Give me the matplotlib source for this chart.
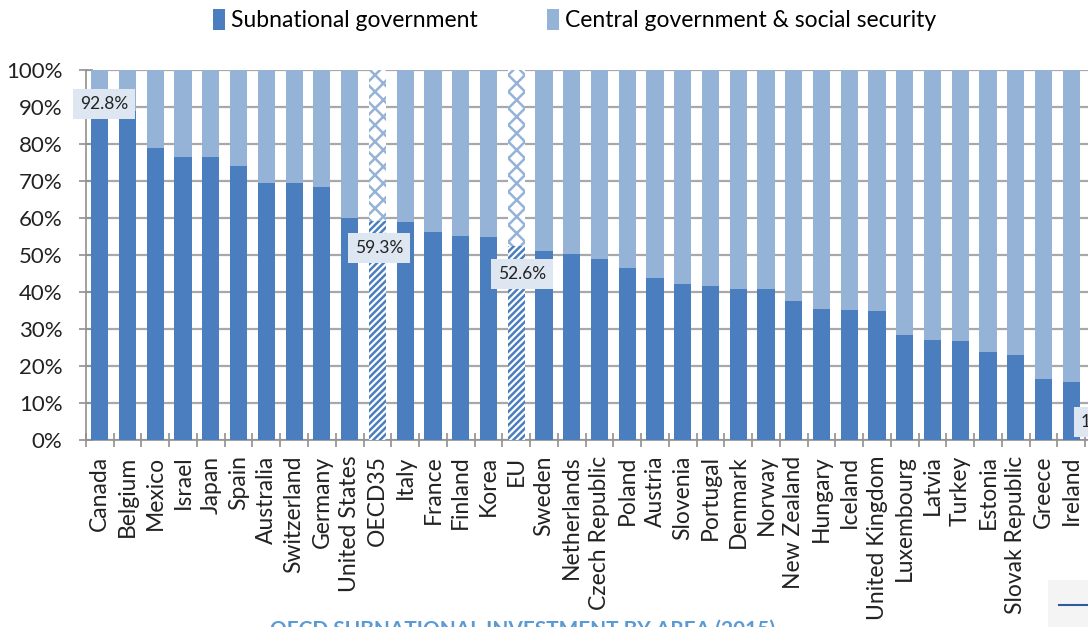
import matplotlib
matplotlib.use("Agg")
import matplotlib.pyplot as plt
from matplotlib.patches import Patch, Rectangle
from matplotlib.lines import Line2D

categories = ["Canada", "Belgium", "Mexico", "Israel", "Japan", "Spain", "Australia",
              "Switzerland", "Germany", "United States", "OECD35", "Italy", "France",
              "Finland", "Korea", "EU", "Sweden", "Netherlands", "Czech Republic",
              "Poland", "Austria", "Slovenia", "Portugal", "Denmark", "Norway",
              "New Zealand", "Hungary", "Iceland", "United Kingdom", "Luxembourg",
              "Latvia", "Turkey", "Estonia", "Slovak Republic", "Greece", "Ireland"]
subnational = [92.8, 89.0, 79.0, 76.6, 76.6, 74.1, 69.4, 69.4, 68.5, 60.0, 59.3, 59.0,
               56.3, 55.2, 54.8, 52.6, 51.0, 50.2, 48.9, 46.5, 43.8, 42.2, 41.6, 40.8,
               40.8, 37.6, 35.4, 35.1, 34.9, 28.4, 27.0, 26.8, 23.9, 23.0, 16.5, 15.7]
central = [100 - v for v in subnational]
averages = ["OECD35", "EU"]
labelled = {"Canada": "92.8%", "OECD35": "59.3%", "EU": "52.6%", "Ireland": "15.7%"}
series_names = ["Subnational government", "Central government & social security"]
title = "OECD SUBNATIONAL INVESTMENT BY AREA (2015)"

DARK = "#4a7ebf"
LIGHT = "#95b3d7"
FONT = ["Lato", "DejaVu Sans"]
plt.rcParams["font.family"] = FONT
plt.rcParams["hatch.linewidth"] = 1.8

fig = plt.figure(figsize=(10.88, 6.27), dpi=100)
ax = fig.add_axes([0.079, 0.298, 0.921, 0.59])

x = list(range(len(categories)))
w = 0.62
for i, c in enumerate(categories):
    if c in averages:
        ax.bar(i, subnational[i], width=w, facecolor="white", edgecolor=DARK,
               hatch="/////", linewidth=0, zorder=3)
        ax.bar(i, central[i], width=w, bottom=subnational[i], facecolor="white",
               edgecolor=LIGHT, hatch="xx", linewidth=0, zorder=3)
    else:
        ax.bar(i, subnational[i], width=w, color=DARK, zorder=3)
        ax.bar(i, central[i], width=w, bottom=subnational[i], color=LIGHT, zorder=3)

# data labels
offsets = {"Canada": (0.15, -2.0), "OECD35": (0.05, -7.3),
           "EU": (0.2, -7.6), "Ireland": (1.2, -10.7)}
for c, txt in labelled.items():
    i = categories.index(c)
    dx, dy = offsets[c]
    ax.text(i + dx, subnational[i] + dy, txt, ha="center", va="center",
            fontsize=12.5, color="#222222", zorder=5, clip_on=False,
            bbox=dict(boxstyle="square,pad=0.4", facecolor="#dde6f1", edgecolor="none"))

ax.set_xlim(-0.5, 35.6)
ax.set_ylim(0, 100)
ax.set_yticks(range(0, 101, 10))
ax.set_yticklabels([f"{v}%" for v in range(0, 101, 10)], fontsize=16, color="#222222")
ax.yaxis.grid(True, color="#a8a8a8", linewidth=1.6, zorder=0)
ax.set_axisbelow(True)

ax.set_xticks([i - 0.5 for i in range(len(categories))] + [len(categories) - 0.5])
ax.set_xticklabels([])
ax.set_xticks(x, minor=True)
ax.set_xticklabels(categories, minor=True, rotation=90, fontsize=16.5, color="#222222")
ax.tick_params(axis="x", which="minor", length=0, pad=11)
ax.tick_params(axis="x", which="major", direction="inout", length=10, color="#909090", width=1.2)
ax.tick_params(axis="y", direction="inout", length=10, color="#909090", width=1.2, pad=12)

for s in ["top", "right"]:
    ax.spines[s].set_visible(False)
for s in ["left", "bottom"]:
    ax.spines[s].set_color("#909090")
    ax.spines[s].set_linewidth(1.2)

handles = [Patch(facecolor=DARK, edgecolor="none"), Patch(facecolor=LIGHT, edgecolor="none")]
fig.legend(handles, series_names, loc="upper center", bbox_to_anchor=(0.528, 1.018),
           ncol=2, frameon=False, fontsize=16.5, handlelength=0.55, handleheight=1.0,
           handletextpad=0.25, columnspacing=3.0)

# caption at the bottom (mostly cut off in the reference)
fig.text(0.48, -0.004, title, ha="center", va="center", fontsize=15, fontweight="bold",
         color="#5b9bd5")

# decorative box bottom-right
fig.add_artist(Rectangle((0.963, 0.0), 0.04, 0.075, transform=fig.transFigure,
                         facecolor="#f4f4f4", edgecolor="none"))
fig.add_artist(Line2D([0.973, 1.0], [0.035, 0.035], transform=fig.transFigure,
                      color="#2f5b9a", linewidth=1.5))

fig.savefig("out.png", dpi=100)
